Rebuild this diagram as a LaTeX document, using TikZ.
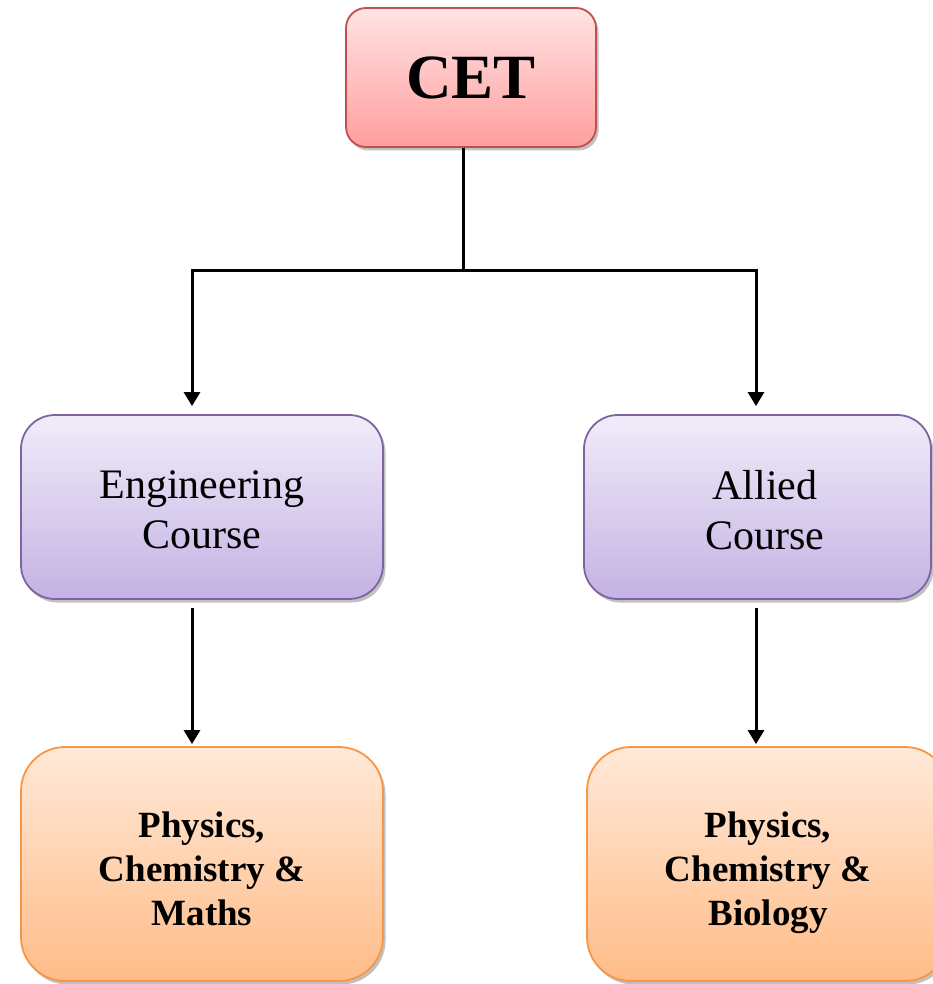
\documentclass[tikz,border=0pt]{standalone}
\usepackage{fontspec}
\setmainfont{Liberation Serif}
\usetikzlibrary{arrows.meta,shadows}
\definecolor{cettop}{RGB}{255,228,228}
\definecolor{cetbot}{RGB}{255,158,158}
\definecolor{cetline}{RGB}{192,80,77}
\definecolor{purtop}{RGB}{241,236,249}
\definecolor{purbot}{RGB}{196,178,228}
\definecolor{purline}{RGB}{128,100,162}
\definecolor{ortop}{RGB}{255,233,216}
\definecolor{orbot}{RGB}{255,188,136}
\definecolor{orline}{RGB}{247,150,70}
\tikzset{
  boxshadow/.style={drop shadow={shadow xshift=2.5pt,shadow yshift=-3.5pt,opacity=0.35,fill=black!70}},
  cetbox/.style={draw=cetline,line width=1.8pt,rounded corners=20pt,top color=cettop,bottom color=cetbot,
    minimum width=250pt,minimum height=139pt,boxshadow,font=\fontsize{63}{70}\selectfont\bfseries},
  purbox/.style={draw=purline,line width=1.8pt,rounded corners=34pt,top color=purtop,bottom color=purbot,
    minimum height=184pt,boxshadow},
  purtext/.style={align=center,text depth=0pt,font=\fontsize{42}{50}\selectfont,yshift=-3pt},
  orbox/.style={draw=orline,line width=1.8pt,rounded corners=44pt,top color=ortop,bottom color=orbot,
    minimum width=362pt,minimum height=234pt,boxshadow},
  ortext/.style={align=center,text depth=0pt,font=\fontsize{37}{44}\selectfont\bfseries,yshift=-5pt},
  conn/.style={line width=3pt,black},
  arr/.style={conn,-{Triangle[width=16pt,length=14pt]}}
}
\begin{document}
\begin{tikzpicture}[x=1pt,y=-1pt]
\useasboundingbox (0,0) rectangle (933,984);
\clip (0,0) rectangle (933,984);
\node[cetbox] (cet) at (471,77.5) {CET};
\node[purbox,minimum width=362pt,label={[purtext]center:{Engineering\\Course}}] (eng) at (202,507) {};
\node[purbox,minimum width=347pt,label={[purtext,xshift=7.5pt]center:{Allied\\Course}}] (all) at (757.5,507) {};
\node[orbox,label={[ortext]center:{Physics,\\Chemistry \&\\Maths}}] (pcm) at (202,864) {};
\node[orbox,label={[ortext]center:{Physics,\\Chemistry \&\\Biology}}] (pcb) at (768,864) {};
\coordinate (t) at (463,270);
\coordinate (la) at (192,270);
\coordinate (ra) at (756,270);
\draw[conn] (t |- cet.south) -- (t);
\draw[conn,line cap=rect] (la) -- (ra);
\draw[arr,shorten >=8pt] (la) -- (la |- eng.north);
\draw[arr,shorten >=8pt] (ra) -- (ra |- all.north);
\draw[arr,shorten <=8pt,shorten >=2pt] (la |- eng.south) -- (la |- pcm.north);
\draw[arr,shorten <=8pt,shorten >=2pt] (ra |- all.south) -- (ra |- pcb.north);
\end{tikzpicture}
\end{document}
